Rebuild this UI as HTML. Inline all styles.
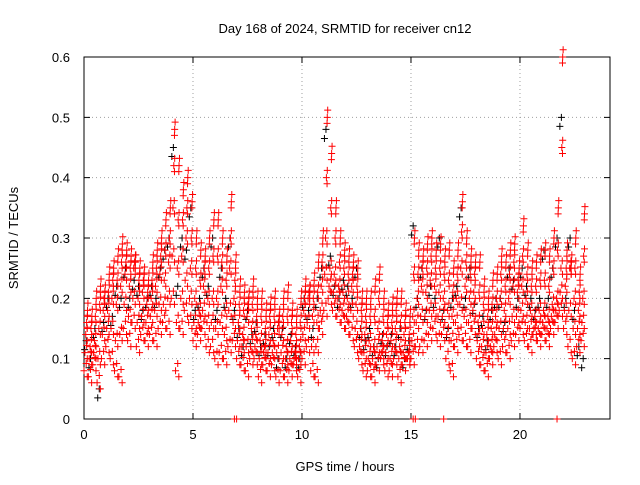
<!DOCTYPE html>
<html><head><meta charset="utf-8"><style>
html,body{margin:0;padding:0;background:#fff;}
svg text{font-family:"Liberation Sans",sans-serif;font-size:13px;fill:#000;}
</style></head><body>
<svg id="chart" width="640" height="480" viewBox="0 0 640 480" xmlns="http://www.w3.org/2000/svg">
<rect width="640" height="480" fill="#fff"/>
<g id="grid"></g>
<g id="axes"></g>
<g id="marks"></g>
<text x="345" y="33" text-anchor="middle">Day 168 of 2024, SRMTID for receiver cn12</text>
<text x="345" y="471" text-anchor="middle">GPS time / hours</text>
<text x="18" y="238" text-anchor="middle" transform="rotate(-90 18 238)">SRMTID / TECUs</text>
</svg>
<script>
const xTicks=[0,5,10,15,20];
const yTicks=[0,0.1,0.2,0.3,0.4,0.5,0.6];
const yTickLabels=["0","0.1","0.2","0.3","0.4","0.5","0.6"];
const hours=[0,0.2,0.4,0.6,0.8,1,1.2,1.4,1.6,1.8,2,2.2,2.4,2.6,2.8,3,3.2,3.4,3.6,3.8,4,4.2,4.4,4.6,4.8,5,5.2,5.4,5.6,5.8,6,6.2,6.4,6.6,6.8,7,7.2,7.4,7.6,7.8,8,8.2,8.4,8.6,8.8,9,9.2,9.4,9.6,9.8,10,10.2,10.4,10.6,10.8,11,11.2,11.4,11.6,11.8,12,12.2,12.4,12.6,12.8,13,13.2,13.4,13.6,13.8,14,14.2,14.4,14.6,14.8,15,15.2,15.4,15.6,15.8,16,16.2,16.4,16.6,16.8,17,17.2,17.4,17.6,17.8,18,18.2,18.4,18.6,18.8,19,19.2,19.4,19.6,19.8,20,20.2,20.4,20.6,20.8,21,21.2,21.4,21.6,21.8,22,22.2,22.4,22.6,22.8];
const redLow=[.08,.07,.09,.06,.1,.12,.1,.08,.07,.15,.13,.16,.12,.14,.13,.14,.13,.15,.16,.15,.2,.08,.15,.18,.16,.13,.14,.15,.12,.12,.1,.11,.1,.12,.13,.1,.09,.08,.1,.1,.07,.09,.08,.09,.07,.08,.07,.08,.09,.07,.1,.12,.08,.07,.15,.18,.2,.18,.17,.16,.15,.14,.12,.1,.08,.08,.07,.09,.1,.08,.08,.1,.07,.09,.1,.1,.12,.12,.13,.14,.15,.13,.14,.1,.08,.12,.14,.13,.12,.15,.1,.09,.08,.1,.12,.1,.12,.11,.13,.14,.15,.13,.12,.14,.13,.14,.13,.15,.16,.18,.15,.12,.1,.12,.13];
const redQ1=[.11,.1,.11,.1,.14,.15,.15,.13,.14,.19,.17,.2,.16,.17,.16,.17,.18,.19,.19,.2,.27,.16,.2,.23,.2,.16,.16,.18,.16,.16,.15,.16,.14,.18,.16,.13,.12,.12,.12,.12,.1,.11,.11,.11,.11,.11,.1,.1,.1,.1,.14,.16,.12,.12,.18,.24,.22,.21,.2,.18,.17,.18,.15,.12,.11,.1,.1,.12,.11,.11,.1,.12,.1,.11,.1,.13,.16,.17,.17,.18,.18,.17,.17,.14,.13,.16,.19,.17,.16,.18,.13,.12,.11,.12,.14,.15,.15,.15,.17,.17,.18,.16,.15,.15,.15,.16,.15,.17,.18,.21,.18,.18,.15,.15,.16];
const redMid=[.14,.12,.13,.15,.18,.18,.2,.19,.22,.24,.22,.25,.2,.21,.19,.2,.22,.24,.23,.26,.35,.25,.27,.3,.25,.2,.18,.22,.2,.2,.2,.22,.18,.25,.2,.16,.14,.17,.15,.14,.13,.12,.14,.13,.15,.14,.12,.13,.11,.12,.18,.2,.17,.16,.22,.3,.25,.24,.22,.21,.2,.22,.19,.15,.14,.13,.12,.15,.13,.14,.13,.15,.12,.14,.11,.17,.2,.22,.21,.23,.22,.21,.2,.18,.17,.2,.25,.22,.2,.21,.16,.15,.14,.15,.17,.2,.18,.2,.22,.21,.22,.2,.18,.17,.18,.18,.17,.19,.2,.25,.22,.25,.2,.18,.2];
const redQ3=[.16,.15,.17,.19,.2,.21,.23,.23,.26,.26,.25,.26,.23,.23,.21,.23,.25,.27,.28,.3,.42,.33,.33,.35,.3,.25,.23,.25,.25,.27,.27,.26,.23,.3,.23,.19,.18,.19,.19,.17,.17,.15,.17,.17,.16,.17,.17,.16,.14,.16,.2,.21,.2,.21,.26,.4,.35,.3,.26,.25,.24,.24,.22,.18,.17,.17,.17,.2,.17,.16,.16,.18,.16,.16,.14,.24,.24,.25,.25,.27,.25,.25,.24,.23,.21,.24,.31,.26,.24,.24,.21,.19,.17,.19,.2,.24,.22,.24,.26,.23,.27,.24,.22,.22,.23,.23,.22,.25,.28,.45,.25,.25,.25,.21,.27];
const redHigh=[.18,.17,.2,.22,.21,.24,.25,.27,.29,.28,.27,.26,.25,.24,.23,.26,.28,.3,.33,.35,.48,.42,.38,.4,.36,.3,.28,.27,.3,.33,.33,.3,.27,.36,.26,.22,.21,.2,.22,.2,.2,.18,.19,.2,.17,.2,.21,.18,.17,.2,.22,.21,.23,.26,.3,.5,.44,.35,.3,.28,.27,.26,.25,.2,.2,.2,.22,.24,.2,.18,.19,.2,.2,.18,.17,.3,.28,.27,.29,.3,.28,.29,.27,.28,.25,.28,.36,.3,.27,.26,.26,.22,.2,.23,.24,.27,.26,.28,.29,.25,.32,.28,.25,.26,.27,.28,.27,.3,.35,.6,.28,.26,.3,.24,.34];
const blackVals=[.13,.1,.15,.05,.16,.2,.17,.22,.2,.25,.2,.23,.22,.18,.2,.22,.2,.25,.28,.3,.45,.22,.3,.28,.35,.18,.2,.25,.22,.3,.18,.25,.2,.3,.18,.15,.12,.18,.14,.16,.12,.14,.12,.15,.1,.15,.1,.14,.12,.1,.2,.18,.15,.2,.25,.48,.27,.22,.2,.23,.22,.2,.25,.15,.13,.15,.12,.1,.14,.12,.14,.12,.15,.1,.13,.32,.2,.25,.18,.22,.2,.3,.18,.15,.2,.22,.35,.2,.25,.19,.15,.17,.13,.18,.2,.2,.16,.25,.23,.2,.25,.22,.2,.18,.2,.28,.2,.25,.3,.5,.2,.3,.18,.12,.1];
const zeroHours=[6.9,7.0,15.1,15.2,16.5,21.7];

const X0=84,X1=610,Y0=419,Y1=57,XMAX=24.13,YMAX=0.6;
const xs=h=>X0+(h/XMAX)*(X1-X0);
const ys=v=>Y0-(v/YMAX)*(Y0-Y1);
const NS="http://www.w3.org/2000/svg";
const grid=document.getElementById('grid'),axes=document.getElementById('axes'),marks=document.getElementById('marks');
function mk(tag,attrs,parent){const e=document.createElementNS(NS,tag);for(const k in attrs)e.setAttribute(k,attrs[k]);parent.appendChild(e);return e;}
xTicks.forEach((t,i)=>{
  const x=xs(t);
  if(t>0){const g=mk('line',{x1:x,y1:Y1,x2:x,y2:Y0,stroke:'#a0a0a0','stroke-dasharray':'1,3'},grid);
  
  }
  const tk=mk('path',{d:`M${x},${Y0}v-6M${x},${Y1}v6`,stroke:'#000'},axes);
  
  
  const lb=mk('text',{x:x,y:Y0+20,'text-anchor':'middle'},axes);lb.textContent=String(t);
  
  
});
yTicks.forEach((t,i)=>{
  const y=ys(t);
  if(t>0&&t<YMAX){const g=mk('line',{x1:X0,y1:y,x2:X1,y2:y,stroke:'#a0a0a0','stroke-dasharray':'1,3'},grid);
  
  }
  const tk=mk('path',{d:`M${X0},${y}h6M${X1},${y}h-6`,stroke:'#000'},axes);
  
  
  const lb=mk('text',{x:X0-14,y:y+5,'text-anchor':'end'},axes);lb.textContent=yTickLabels[i];
  
  
});
const fr=mk('rect',{x:X0,y:Y1,width:X1-X0,height:Y0-Y1,fill:'none',stroke:'#000'},axes);


function plus(h,v,color){
  const x=xs(h),y=ys(v);
  const p=mk('path',{d:`M${x-3.5},${y}h7M${x},${y-3.5}v7`,stroke:color,'stroke-width':1},marks);
  
  
}
hours.forEach((h,i)=>{plus(h+0.1,blackVals[i],'#000');plus(h+0.03,blackVals[i]-0.015,'#000');});
[redLow,redQ1,redMid,redQ3,redHigh].forEach((arr,k)=>{
  hours.forEach((h,i)=>{plus(h+k*0.04,arr[i],'#f00');plus(h+0.1+k*0.02,arr[i]+0.012,'#f00');plus(h+0.15,arr[i]-0.01,'#f00');});
});
zeroHours.forEach(h=>plus(h,0,'#f00'));
</script>
</body></html>
